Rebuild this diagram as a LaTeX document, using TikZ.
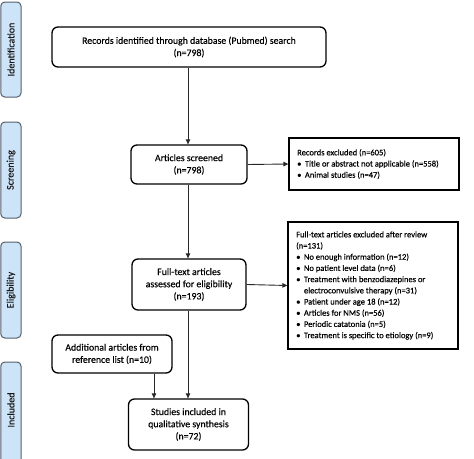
\documentclass[tikz,border=0pt]{standalone}
\usepackage{fontspec}
\setmainfont{Carlito}[FakeBold=0.35]
\usetikzlibrary{arrows.meta}
\definecolor{barfill}{RGB}{205,228,248}
\definecolor{barline}{RGB}{85,95,110}
\definecolor{lin}{RGB}{40,40,40}
\tikzset{
  flowbox/.style={draw=black, line width=1.3pt, rounded corners=6pt, align=center, inner sep=0pt,
    font=\fontsize{9.8}{12.2}\selectfont, text=black},
  exbox/.style={draw=black, line width=1.3pt, inner sep=0pt},
  extext/.style={anchor=west, align=left, inner sep=0pt, font=\fontsize{8.5}{11.2}\selectfont, text=black},
  phase/.style={draw=barline, fill=barfill, line width=1pt, rounded corners=4pt},
  phasetext/.style={rotate=90, font=\fontsize{10}{12}\selectfont, text=black!90},
  arr/.style={draw=lin, line width=0.9pt, -{Triangle[length=5pt,width=4.5pt]}},
}
\begin{document}
\begin{tikzpicture}[x=1pt,y=-1pt]
\useasboundingbox (0,0) rectangle (474,458);
\clip (0,0) rectangle (474,458);
% phase bars
\draw[phase] (0.8,2) rectangle (21,97);
\draw[phase] (0.8,122) rectangle (21,218);
\draw[phase] (0.8,242) rectangle (21,338);
\draw[phase] (0.8,362) rectangle (21,466);
\node[phasetext] (pid) at (11,49.5) {Identification};
\node[phasetext] (psc) at (11,170) {Screening};
\node[phasetext] (pel) at (11,290) {Eligibility};
\node[phasetext] (pin) at (11,410) {Included};
% main flow
\node[flowbox, minimum width=274pt, minimum height=40pt] (rec) at (189,47) {Records identified through database (Pubmed) search\\(n=798)};
\node[flowbox, minimum width=116pt, minimum height=39pt] (scr) at (189,164.5) {Articles screened\\(n=798)};
\node[flowbox, minimum width=114pt, minimum height=51pt] (full) at (189,284.5) {Full-text articles\\assessed for eligibility\\(n=193)};
\node[flowbox, minimum width=120pt, minimum height=38pt] (add) at (112,354) {Additional articles from\\reference list (n=10)};
\node[flowbox, minimum width=120pt, minimum height=51pt] (inc) at (188.5,424.5) {Studies included in\\qualitative synthesis\\(n=72)};
% exclusion boxes
\node[exbox, minimum width=170pt, minimum height=52pt] (ex1) at (374,164) {};
\node[extext] (ex1t) at (297,164) {Records excluded (n=605)\\
\textbullet\hspace{3.5pt}Title or abstract not applicable (n=558)\\
\textbullet\hspace{3.5pt}Animal studies (n=47)};
\node[exbox, minimum width=170pt, minimum height=127pt] (ex2) at (373,285.5) {};
\node[extext] (ex2t) at (296,285.5) {Full-text articles excluded after review\\(n=131)\\
\textbullet\hspace{3.5pt}No enough information (n=12)\\
\textbullet\hspace{3.5pt}No patient level data (n=6)\\
\textbullet\hspace{3.5pt}Treatment with benzodiazepines or\\
\phantom{\textbullet}\hspace{3.5pt}electroconvulsive therapy (n=31)\\
\textbullet\hspace{3.5pt}Patient under age 18 (n=12)\\
\textbullet\hspace{3.5pt}Articles for NMS (n=56)\\
\textbullet\hspace{3.5pt}Periodic catatonia (n=5)\\
\textbullet\hspace{3.5pt}Treatment is specific to etiology (n=9)};
% connectors
\draw[arr] (rec.south -| 188,0) -- (scr.north -| 188,0);
\draw[arr] (scr.south -| 188,0) -- (full.north -| 188,0);
\draw[arr] (full.south -| 188,0) -- (inc.north -| 188,0);
\draw[arr] (scr.east) -- (ex1.west);
\draw[arr] (full.east) -- (ex2.west);
\draw[arr] (add.south -| 154,0) -- (inc.north -| 154,0);
\end{tikzpicture}
\end{document}
